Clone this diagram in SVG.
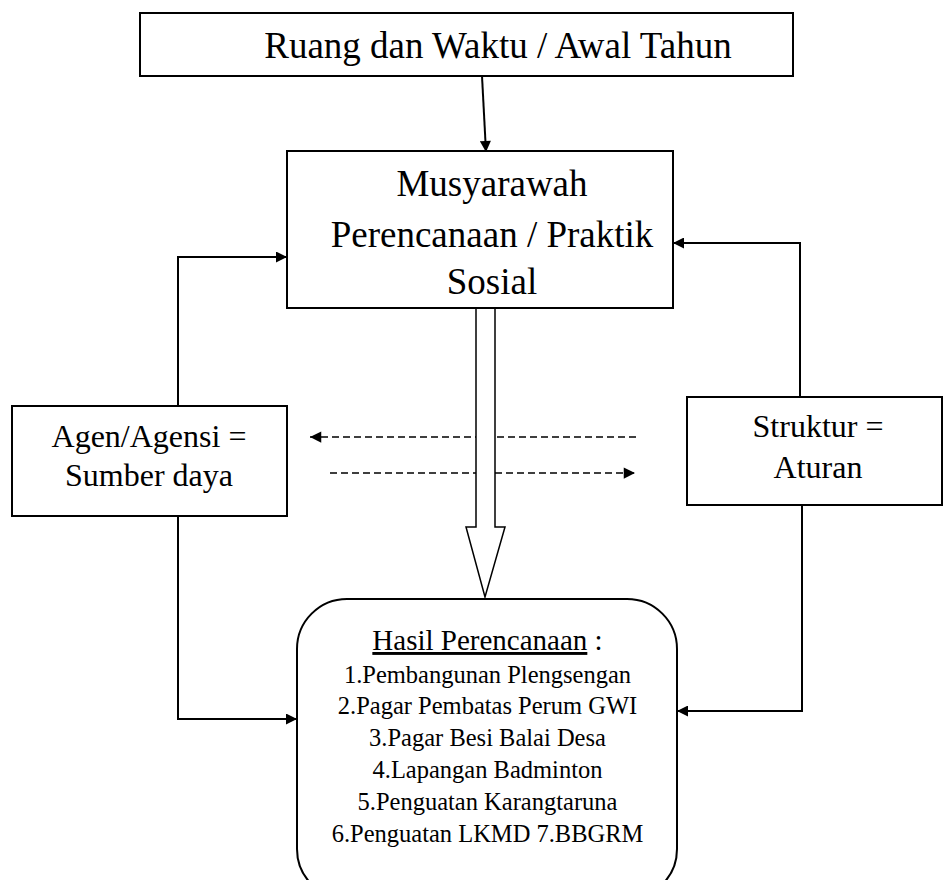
<svg xmlns="http://www.w3.org/2000/svg" width="945" height="880" viewBox="0 0 945 880">
  <style>
    .box { fill: #ffffff; stroke: #000000; stroke-width: 2; }
    .lbl { font-family: "Liberation Serif", "Times New Roman", serif; fill: #000000; text-anchor: middle; }
    .line { fill: none; stroke: #000000; stroke-width: 2; }
    .dash { fill: none; stroke: #000000; stroke-width: 1.5; stroke-dasharray: 7 4; }
  </style>
  <defs>
    <marker id="arrow" viewBox="0 0 10 10" refX="10" refY="5" markerWidth="6.5" markerHeight="5.5" orient="auto" markerUnits="strokeWidth">
      <path d="M0,0 L10,5 L0,10 Z" fill="#000000"/>
    </marker>
    <marker id="arrowSmall" viewBox="0 0 10 10" refX="10" refY="5" markerWidth="8" markerHeight="7.5" orient="auto" markerUnits="strokeWidth">
      <path d="M0,0 L10,5 L0,10 Z" fill="#000000"/>
    </marker>
  </defs>

  <!-- connectors -->
  <g id="connectors">
    <line class="line" x1="482" y1="76" x2="486" y2="152" marker-end="url(#arrow)"/>
    <polyline class="line" points="178,406 178,257 287,257" marker-end="url(#arrow)"/>
    <polyline class="line" points="800,397 800,243 673,243" marker-end="url(#arrow)"/>
    <polyline class="line" points="178,516 178,719 297,719" marker-end="url(#arrow)"/>
    <polyline class="line" points="802,505 802,711 677,711" marker-end="url(#arrow)"/>
    <line class="dash" x1="636" y1="437" x2="310" y2="437" marker-end="url(#arrowSmall)"/>
    <line class="dash" x1="330" y1="473" x2="635" y2="473" marker-end="url(#arrowSmall)"/>
    <!-- hollow block arrow -->
    <path d="M476,308 L476,527 L466,527 L485,597 L505,527 L495,527 L495,308" fill="#ffffff" stroke="#000000" stroke-width="1.5" stroke-linejoin="miter"/>
  </g>

  <g id="node-ruang">
    <rect class="box" x="140" y="13" width="653" height="63"/>
    <text class="lbl" x="498" y="58" font-size="37">Ruang dan Waktu / Awal Tahun</text>
  </g>

  <g id="node-musyarawah">
    <rect class="box" x="287" y="151" width="386" height="157"/>
    <text class="lbl" x="492" y="196" font-size="37">Musyarawah</text>
    <text class="lbl" x="492" y="247" font-size="37">Perencanaan / Praktik</text>
    <text class="lbl" x="492" y="294" font-size="37">Sosial</text>
  </g>

  <g id="node-agen">
    <rect class="box" x="12" y="406" width="275" height="110"/>
    <text class="lbl" x="149" y="447" font-size="32">Agen/Agensi =</text>
    <text class="lbl" x="149" y="486" font-size="32">Sumber daya</text>
  </g>

  <g id="node-struktur">
    <rect class="box" x="687" y="397" width="255" height="108"/>
    <text class="lbl" x="818" y="437" font-size="32">Struktur =</text>
    <text class="lbl" x="818" y="478" font-size="32">Aturan</text>
  </g>

  <g id="node-hasil">
    <rect class="box" x="297" y="599" width="380" height="300" rx="50" ry="50"/>
    <text class="lbl" x="487.5" y="650" font-size="29"><tspan text-decoration="underline">Hasil Perencanaan</tspan> :</text>
    <text class="lbl" x="487.5" y="683" font-size="24.5">1.Pembangunan Plengsengan</text>
    <text class="lbl" x="487.5" y="714" font-size="24.5">2.Pagar Pembatas Perum GWI</text>
    <text class="lbl" x="487.5" y="746" font-size="24.5">3.Pagar Besi Balai Desa</text>
    <text class="lbl" x="487.5" y="778" font-size="24.5">4.Lapangan Badminton</text>
    <text class="lbl" x="487.5" y="810" font-size="24.5">5.Penguatan Karangtaruna</text>
    <text class="lbl" x="487.5" y="842" font-size="24.5">6.Penguatan LKMD 7.BBGRM</text>
  </g>
</svg>
